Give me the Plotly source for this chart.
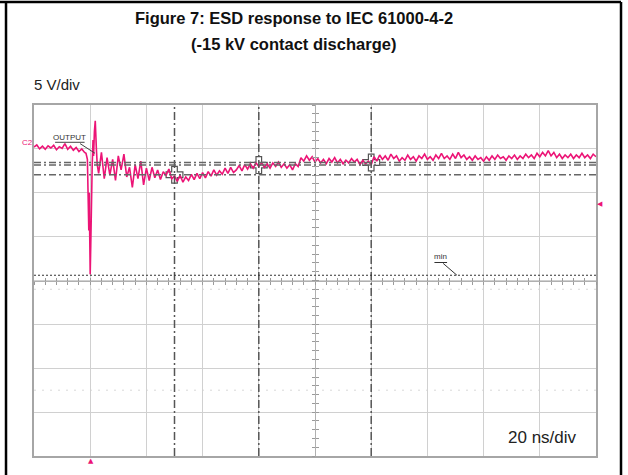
import plotly.graph_objects as go

# ---------------- data ----------------
# time in ns relative to trigger, voltage in V (screen centre = 0 V, 5 V/div)
t_pre = list(range(-20, -1))
v_pre = [15.2, 15.45, 15.0, 15.3, 14.95, 15.35, 15.1, 15.4, 14.9, 15.25,
         15.05, 15.6, 14.95, 15.3, 14.85, 15.15, 14.7, 15.0, 14.6]

t_spike = [-1.5, -1.0, -0.7, -0.5, -0.35, -0.2, 0.0, 0.2, 0.4, 0.7, 1.0, 1.2,
           1.5, 1.8, 2.2, 2.5]
v_spike = [14.5, 13.8, 9.5, 5.7, 10.0, 3.5, 0.7, 4.0, 9.0, 13.0, 16.0, 14.2,
           17.0, 18.2, 15.0, 13.2]

t_post = list(range(3, 181))
v_post = [
    # 3..21 ringing
    12.2, 14.6, 11.6, 14.0, 12.0, 13.8, 11.4, 14.2, 12.6, 14.4,
    11.8, 12.9, 10.6, 13.2, 11.6, 13.6, 10.9, 12.8, 11.4,
    # 22..40
    12.9, 11.7, 12.6, 11.5, 12.4, 12.0, 12.7, 11.6, 11.9, 11.3,
    12.0, 11.2, 11.8, 11.4, 12.1, 11.5, 12.2, 11.6, 12.3,
    # 41..60
    11.7, 12.4, 11.9, 12.6, 12.0, 12.5, 12.1, 12.8, 12.2, 12.9,
    12.3, 12.6, 13.1, 12.5, 13.2, 12.7, 13.3, 12.8, 13.4, 13.0,
    # 61..100
    13.4, 12.9, 13.3, 12.8, 13.4, 13.0, 13.5, 12.9, 13.3, 12.8,
    13.2, 12.6, 13.3, 13.0, 14.0, 13.6, 14.2, 13.7, 14.1, 13.5,
    13.9, 13.4, 13.8, 13.3, 13.9, 13.5, 14.0, 13.4, 13.8, 13.3,
    13.7, 13.4, 13.9, 13.5, 13.8, 13.2, 13.7, 13.3, 13.6, 13.2,
    # 101..180
    14.1, 13.6, 14.3, 13.8, 14.2, 13.7, 14.4, 13.9, 14.2, 13.6,
    14.0, 13.7, 14.3, 13.8, 14.1, 13.6, 14.2, 13.9, 14.4, 13.8,
    14.1, 13.7, 14.3, 13.9, 14.5, 13.9, 14.2, 13.8, 14.4, 13.9,
    14.6, 14.0, 14.3, 13.8, 14.1, 13.7, 14.2, 13.8, 14.0, 13.6,
    14.1, 13.7, 14.2, 13.8, 14.3, 13.9, 14.1, 13.7, 14.2, 13.9,
    14.3, 13.8, 14.2, 13.9, 14.4, 14.0, 14.3, 13.9, 14.5, 14.1,
    14.6, 14.2, 14.8, 14.2, 14.6, 14.0, 14.4, 13.9, 14.3, 14.0,
    14.4, 13.9, 14.3, 14.0, 14.5, 14.0, 14.3, 13.9, 14.4, 14.1,
]

t_ns = t_pre + t_spike + t_post
v_out = v_pre + v_spike + v_post

# cursors (time, level) and reference lines
cursor_t = [30, 60, 100]
cursor_v = [12.05, 13.15, 13.45]
min_level = 0.6
faint_levels = [-1.0, -12.5]
trig_level = 8.7
trig_time = 0.3

x_range = [-20, 180]
y_range = [-20, 20]

PINK = "#ec1476"
GRID = "#d0d0d0"
BORDER = "#a6a6a6"

fig = go.Figure()

# dummy traces to activate the centre axes
for k in (2, 3):
    fig.add_trace(go.Scatter(x=[None], y=[None], xaxis=f"x{k}", yaxis=f"y{k}",
                             showlegend=False, hoverinfo="skip"))

# cursor crosshair markers
fig.add_trace(go.Scatter(
    x=cursor_t, y=cursor_v, mode="markers", showlegend=False, hoverinfo="skip",
    marker=dict(symbol="cross", size=14, color="white",
                line=dict(color="#555555", width=1.2))))

# trace
fig.add_trace(go.Scatter(
    x=t_ns, y=v_out, mode="lines", showlegend=False,
    line=dict(color=PINK, width=1.6), cliponaxis=False))

shapes = []
# vertical cursors
for ct in cursor_t:
    shapes.append(dict(type="line", xref="x", yref="y", x0=ct, x1=ct,
                       y0=y_range[0], y1=y_range[1],
                       line=dict(color="#555555", width=1.5, dash="8px,3px,2px,3px")))
# horizontal cursors
for cv in cursor_v:
    shapes.append(dict(type="line", xref="x", yref="y", x0=x_range[0], x1=x_range[1],
                       y0=cv, y1=cv,
                       line=dict(color="#666666", width=1.5, dash="7px,3px,2px,3px")))
# min line
shapes.append(dict(type="line", xref="x", yref="y", x0=x_range[0], x1=x_range[1],
                   y0=min_level, y1=min_level,
                   line=dict(color="#333333", width=1.2, dash="2px,2px")))
for fl in faint_levels:
    shapes.append(dict(type="line", xref="x", yref="y", x0=x_range[0], x1=x_range[1],
                       y0=fl, y1=fl, layer="below",
                       line=dict(color="#d8d8d8", width=1, dash="2px,6px")))
# OUTPUT label underline and pointer
shapes.append(dict(type="line", xref="x", yref="y", x0=-12.5, x1=-2.0, y0=15.75, y1=15.75,
                   line=dict(color="#444444", width=1)))
shapes.append(dict(type="line", xref="x", yref="y", x0=-3.6, x1=1.7, y0=15.6, y1=14.5,
                   line=dict(color="#444444", width=1)))
# min label underline and pointer
shapes.append(dict(type="line", xref="x", yref="y", x0=122.5, x1=127.0, y0=2.05, y1=2.05,
                   line=dict(color="#333333", width=1)))
shapes.append(dict(type="line", xref="x", yref="y", x0=125.6, x1=130.5, y0=1.95, y1=0.6,
                   line=dict(color="#333333", width=1)))
# outer frame (paper coords relative to the plot area)
for (x0, x1, y0, y1) in [(-0.0498, -0.0498, -0.06, 1.2934),
                         (1.0445, 1.0445, -0.06, 1.2934),
                         (-0.0605, 1.0445, 1.2934, 1.2934)]:
    shapes.append(dict(type="line", xref="paper", yref="paper",
                       x0=x0, x1=x1, y0=y0, y1=y1,
                       line=dict(color="black", width=2.5)))

TITLE_FONT = dict(family="Liberation Sans, Arial", size=16.5, color="#111111")
annotations = [
    dict(text="<b>Figure 7: ESD response to IEC 61000-4-2</b>", xref="paper", yref="paper",
         x=0.4625, y=1.2479, xanchor="center", yanchor="middle", showarrow=False,
         font=TITLE_FONT),
    dict(text="<b>(-15 kV contact discharge)</b>", xref="paper", yref="paper",
         x=0.4625, y=1.1738, xanchor="center", yanchor="middle", showarrow=False,
         font=TITLE_FONT),
    dict(text="5 V/div", xref="paper", yref="paper", x=-0.004, y=1.057,
         xanchor="left", yanchor="middle", showarrow=False,
         font=dict(family="Liberation Sans, Arial", size=15, color="#222222")),
    dict(text="20 ns/div", xref="paper", yref="paper", x=0.84, y=0.0513,
         xanchor="left", yanchor="middle", showarrow=False,
         font=dict(family="Liberation Sans, Arial", size=17, color="#222222")),
    dict(text="C2", xref="paper", yref="y", x=0.0, y=15.75, xanchor="right",
         yanchor="middle", showarrow=False, xshift=1,
         font=dict(family="Liberation Sans, Arial", size=8, color=PINK)),
    dict(text="OUTPUT", xref="x", yref="y", x=-7.5, y=16.35, xanchor="center",
         yanchor="middle", showarrow=False,
         font=dict(family="Liberation Sans, Arial", size=8, color="#333333")),
    dict(text="min", xref="x", yref="y", x=124.7, y=2.75, xanchor="center",
         yanchor="middle", showarrow=False,
         font=dict(family="Liberation Sans, Arial", size=8, color="#333333")),
    # trigger level / trigger position markers
    dict(text="\u25C0", xref="paper", yref="y", x=1.0071, y=trig_level,
         xanchor="center", yanchor="middle", showarrow=False,
         font=dict(family="DejaVu Sans", size=7, color=PINK)),
    dict(text="\u25B2", xref="x", yref="paper", x=trig_time, y=-0.014,
         xanchor="center", yanchor="middle", showarrow=False,
         font=dict(family="DejaVu Sans", size=7, color=PINK)),
]

common_hidden = dict(showticklabels=False, showgrid=False, zeroline=False)

fig.update_layout(
    width=628, height=475,
    margin=dict(l=34, r=32, t=105, b=19),
    paper_bgcolor="white", plot_bgcolor="white",
    showlegend=False,
    shapes=shapes, annotations=annotations,
    xaxis=dict(range=x_range, dtick=20, tick0=-20, showgrid=True, gridcolor=GRID,
               gridwidth=1, showline=True, linecolor=BORDER, linewidth=1.5, mirror=True,
               zeroline=False, showticklabels=False, ticks=""),
    yaxis=dict(range=y_range, dtick=5, tick0=0, showgrid=True, gridcolor=GRID,
               gridwidth=1, showline=True, linecolor=BORDER, linewidth=1.5, mirror=True,
               zeroline=False, showticklabels=False, ticks=""),
    xaxis2=dict(overlaying="x", anchor="free", position=0.5, range=x_range,
                dtick=4, tick0=-20, ticks="outside", ticklen=3, tickcolor="#9a9a9a",
                showline=True, linecolor="#b0b0b0", linewidth=1, **common_hidden),
    xaxis3=dict(overlaying="x", anchor="free", position=0.5, range=x_range,
                dtick=4, tick0=-20, ticks="inside", ticklen=3, tickcolor="#9a9a9a",
                showline=False, **common_hidden),
    yaxis2=dict(overlaying="y", anchor="free", position=0.5, range=y_range,
                dtick=1, tick0=0, ticks="outside", ticklen=3, tickcolor="#9a9a9a",
                showline=True, linecolor="#b0b0b0", linewidth=1, **common_hidden),
    yaxis3=dict(overlaying="y", anchor="free", position=0.5, range=y_range,
                dtick=1, tick0=0, ticks="inside", ticklen=3, tickcolor="#9a9a9a",
                showline=False, **common_hidden),
)

fig.write_html(
    "out.html",
    config={"displayModeBar": False},
    post_script="document.body.style.margin='0';document.body.style.overflow='hidden';",
)
